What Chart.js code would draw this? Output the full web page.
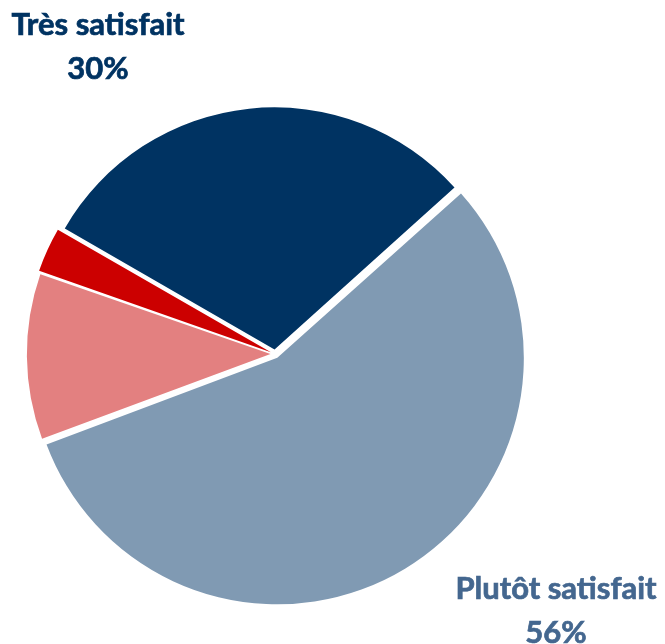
<!DOCTYPE html>
<html>
<head>
<meta charset="utf-8">
<script src="https://cdn.jsdelivr.net/npm/chart.js@4.4.0/dist/chart.umd.min.js"></script>
<style>
  html, body { margin: 0; padding: 0; background: #fff; }
  #wrap { position: relative; width: 665px; height: 644px; }
</style>
</head>
<body>
<div id="wrap"><canvas id="pie"></canvas></div>
<script>
// slices, clockwise from the start angle
const labels = ['Plutôt satisfait', 'Plutôt pas satisfait', 'Pas du tout satisfait', 'Très satisfait'];
const values = [56, 11, 3, 30];
const colors = ['rgb(128,154,179)', 'rgb(227,128,128)', 'rgb(204,0,0)', 'rgb(0,51,98)'];

// outside labels: text lines, colour, centre x, first baseline
const callouts = [
    { lines: ['Très satisfait', '30%'], color: 'rgb(0,51,98)', x: 98, y: 35 },
    { lines: ['Plutôt satisfait', '56%'], color: 'rgb(68,103,143)', x: 556, y: 599 }
];

const calloutPlugin = {
    id: 'callouts',
    afterDraw(chart) {
        const ctx = chart.ctx;
        ctx.save();
        ctx.font = 'bold 31px Lato';
        ctx.textAlign = 'center';
        ctx.textBaseline = 'alphabetic';
        ctx.lineWidth = 0.7;
        callouts.forEach(c => {
            ctx.fillStyle = c.color;
            ctx.strokeStyle = c.color;
            c.lines.forEach((t, i) => {
                ctx.fillText(t, c.x, c.y + i * 44);
                ctx.strokeText(t, c.x, c.y + i * 44);
            });
        });
        ctx.restore();
    }
};

let ctx = document.getElementById('pie').getContext('2d');
var myPie = new Chart(ctx, {
    type: 'pie',
    data: {
        labels: labels,
        datasets: [{
            data: values,
            backgroundColor: colors,
            borderWidth: 0,
            offset: 18
        }]
    },
    options: {
        responsive: true,
        maintainAspectRatio: false,
        animation: false,
        rotation: 48,
        layout: { padding: { left: 24, top: 103, right: 139, bottom: 39 } },
        plugins: {
            legend: { display: false },
            tooltip: { enabled: false }
        }
    },
    plugins: [calloutPlugin]
});
</script>
</body>
</html>
